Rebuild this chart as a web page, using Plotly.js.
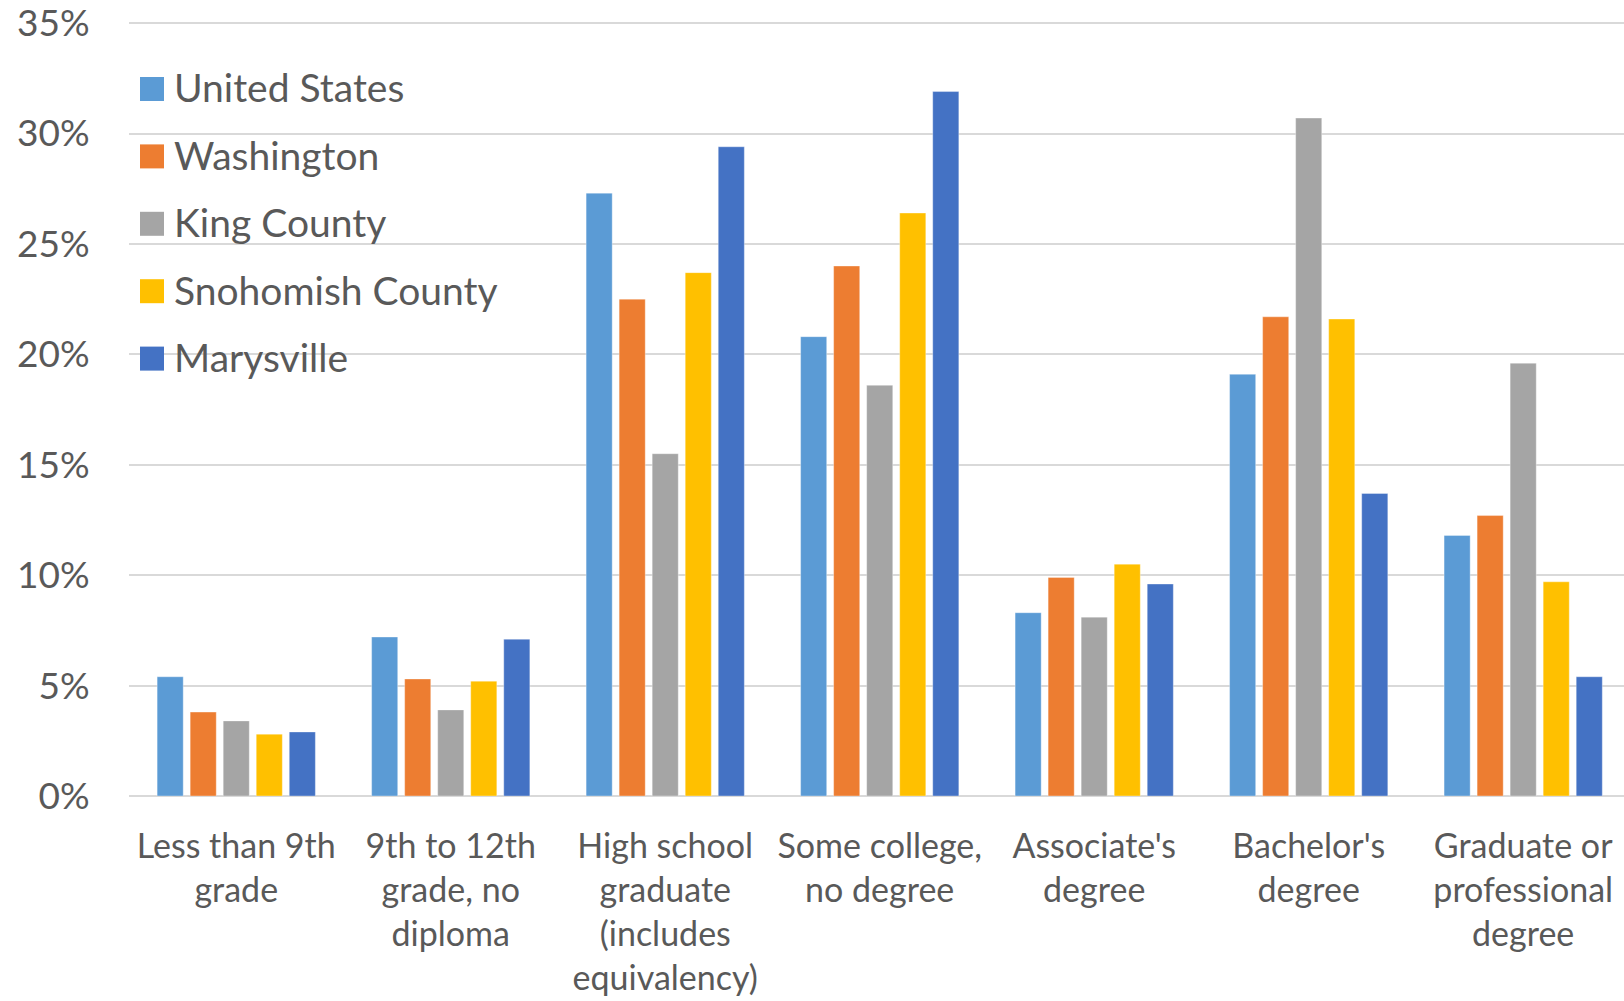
<!DOCTYPE html>
<html>
<head>
<meta charset="utf-8">
<script src="https://cdn.plot.ly/plotly-3.0.1.min.js"></script>
<style>html,body{margin:0;padding:0;background:#fff;}#chart{width:1624px;height:1001px;}</style>
</head>
<body>
<div id="chart"></div>
<script>
const categories = [
  "Less than 9th<br>grade",
  "9th to 12th<br>grade, no<br>diploma",
  "High school<br>graduate<br>(includes<br>equivalency)",
  "Some college,<br>no degree",
  "Associate's<br>degree",
  "Bachelor's<br>degree",
  "Graduate or<br>professional<br>degree"
];
const seriesNames = ["United States", "Washington", "King County", "Snohomish County", "Marysville"];
const unitedStates = [5.4, 7.2, 27.3, 20.8, 8.3, 19.1, 11.8];
const washington   = [3.8, 5.3, 22.5, 24.0, 9.9, 21.7, 12.7];
const kingCounty   = [3.4, 3.9, 15.5, 18.6, 8.1, 30.7, 19.6];
const snohomish    = [2.8, 5.2, 23.7, 26.4, 10.5, 21.6, 9.7];
const marysville   = [2.9, 7.1, 29.4, 31.9, 9.6, 13.7, 5.4];
const yTickVals = [0, 5, 10, 15, 20, 25, 30, 35];
const yTickText = ["0%", "5%", "10%", "15%", "20%", "25%", "30%", "35%"];
const colors = ["#5B9BD5", "#ED7D31", "#A5A5A5", "#FFC000", "#4472C4"];

const allValues = [unitedStates, washington, kingCounty, snohomish, marysville];
const FONT = "Lato, 'Open Sans', sans-serif";
const TXT = "#595959";

const W = 1624, H = 1001;
const M = {l: 129, r: 0, t: 22, b: 205};
const plotW = W - M.l - M.r, plotH = H - M.t - M.b;
const px2x = px => (px - M.l) / plotW;
const px2y = py => (H - M.b - py) / plotH;

const traces = allValues.map((vals, i) => ({
  type: "bar",
  name: seriesNames[i],
  x: categories,
  y: vals,
  showlegend: false,
  marker: {color: colors[i], line: {color: "rgba(255,255,255,0.35)", width: 1}},
  hoverinfo: "skip"
}));

// Custom legend (large square swatches like the original)
const legendShapes = [], legendAnn = [];
seriesNames.forEach((name, i) => {
  const cy = 89 + 67.4 * i;
  legendShapes.push({
    type: "rect", xref: "paper", yref: "paper",
    x0: px2x(140), x1: px2x(164), y0: px2y(cy + 12), y1: px2y(cy - 12),
    fillcolor: colors[i], line: {width: 0}, layer: "above"
  });
  legendAnn.push({
    xref: "paper", yref: "paper", x: px2x(172), y: px2y(cy - 1.5),
    xanchor: "left", yanchor: "middle", showarrow: false,
    text: name, font: {family: FONT, size: 39, color: TXT}
  });
});

const layout = {
  width: W,
  height: H,
  margin: M,
  paper_bgcolor: "#ffffff",
  plot_bgcolor: "#ffffff",
  barmode: "group",
  bargap: 0.23,
  bargroupgap: 0.21,
  font: {family: FONT, size: 34, color: TXT},
  showlegend: false,
  shapes: legendShapes,
  annotations: legendAnn,
  xaxis: {
    type: "category",
    range: [-0.5, 6.47],
    tickangle: 0,
    ticks: "outside",
    ticklen: 20,
    tickcolor: "rgba(0,0,0,0)",
    tickfont: {family: FONT, size: 34, color: TXT},
    showgrid: false,
    showline: false,
    zeroline: false
  },
  yaxis: {
    range: [0, 35.05],
    tickvals: yTickVals,
    ticktext: yTickText,
    ticks: "outside",
    ticklen: 31,
    tickcolor: "rgba(0,0,0,0)",
    tickfont: {family: FONT, size: 37, color: TXT},
    ticklabeloverflow: "allow",
    showgrid: true,
    gridcolor: "#D9D9D9",
    gridwidth: 2,
    zeroline: true,
    zerolinecolor: "#D9D9D9",
    zerolinewidth: 2,
    showline: false
  }
};

Plotly.newPlot("chart", traces, layout, {displayModeBar: false, staticPlot: true});
</script>
</body>
</html>
